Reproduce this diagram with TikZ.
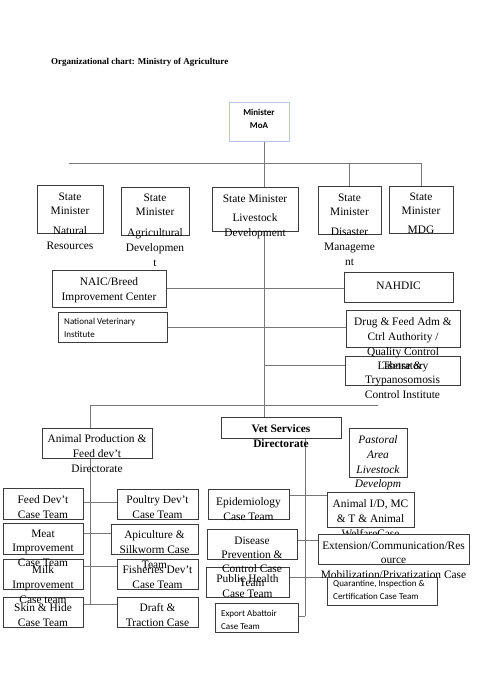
\documentclass[tikz,border=0pt]{standalone}
\usepackage{fontspec}
\setmainfont{Liberation Serif}
\newfontfamily\calfont{Carlito}
\newcommand\tnr{\fontsize{11.4}{14.7}\selectfont}
\newcommand\snr{\calfont\fontsize{9}{13}\selectfont}
\definecolor{boxc}{RGB}{60,60,60}
\definecolor{linec}{RGB}{120,120,120}
\definecolor{minc}{RGB}{180,199,231}
\newcommand\bx[6][]{\node[box,#1,minimum width={#5-#3},minimum height={#6-#4}] (#2) at ({(#3+#5)/2},{(#4+#6)/2}) {};}
\begin{document}
\begin{tikzpicture}[x=1pt,y=-1pt,
  box/.style={draw=boxc, line width=0.8pt, fill=white, inner sep=0pt, outer sep=0pt},
  ln/.style={draw=linec, line width=0.8pt},
  tx/.style={anchor=north, inner sep=0pt, align=center, font=\tnr, execute at begin node=\strut},
  sx/.style={anchor=north west, inner sep=0pt, align=left, font=\snr, execute at begin node=\strut},
  mx/.style={anchor=north, inner sep=0pt, align=center, font=\snr\bfseries, execute at begin node=\strut},
]
\useasboundingbox (0,0) rectangle (486,693);
\fill[white] (0,0) rectangle (486,693);

\node[anchor=base west, inner sep=0pt, font=\fontsize{9}{11}\selectfont\bfseries] (title) at (51,64) {Organizational chart: Ministry of Agriculture};

% coordinates for connectors
\coordinate (spine) at (264,0);
\coordinate (barL) at (69,163);
\coordinate (barR) at (421,163);
\coordinate (tseJ) at (264,365);
\coordinate (h2L) at (90,405);
\coordinate (h2R) at (378,405);
\coordinate (apEnd) at (90,604);
\coordinate (r1) at (0,502);
\coordinate (r2) at (0,533);
\coordinate (r3) at (0,566);
\coordinate (r4) at (0,604);
\coordinate (vs) at (305,0);
\coordinate (vsEnd) at (305,616);
\coordinate (q1) at (0,495);
\coordinate (q2) at (0,540);
\coordinate (q3) at (0,577);

% invisible placement of boxes first (so connectors can use names)
\begin{scope}[box/.append style={draw=none, fill=none}]
\bx{min}{229}{102}{289}{141}
\bx{nr}{37}{185}{103}{233}
\bx{ag}{121}{187}{189}{235}
\bx{ls}{212}{187}{298}{231}
\bx{dm}{318}{186}{381}{234}
\bx{mdg}{389}{186}{453}{233}
\bx{naic}{52}{270}{166}{307}
\bx{nahdic}{344}{272}{453}{302}
\bx{nvi}{58}{312}{167}{342}
\bx{drug}{346}{310}{460}{347}
\bx{tse}{345}{356}{460}{385}
\bx{vet}{221}{417}{341}{438}
\bx{ap}{42}{428}{152}{458}
\bx{past}{349}{428}{407}{477}
\bx{feed}{3}{488}{83}{519}
\bx{poul}{117}{489}{198}{519}
\bx{meat}{3}{523}{83}{554}
\bx{api}{111}{524}{198}{554}
\bx{milk}{3}{559}{83}{589}
\bx{fish}{117}{559}{198}{589}
\bx{skin}{3}{597}{83}{627}
\bx{draft}{117}{597}{198}{627}
\bx{epi}{208}{489}{289}{519}
\bx{dis}{207}{529}{297}{559}
\bx{ph}{206}{567}{289}{597}
\bx{exp}{215}{603}{298}{632}
\bx{aid}{327}{492}{414}{527}
\bx{ext}{318}{534}{469}{564}
\bx{quar}{327}{577}{437}{605}
\end{scope}

% ---------- connectors ----------
\draw[ln] (min.south -| spine) -- (ls.north -| spine);
\draw[ln] (barL) -- (barR);
\draw[ln] (dm.north |- barL) -- (dm.north);
\draw[ln] (mdg.north |- barL) -- (mdg.north);
\draw[ln] (ls.south -| spine) -- (vet.north -| spine);
\draw[ln] (naic.east) -- (naic.east -| nahdic.west);
\draw[ln] (nvi.east) -- (nvi.east -| drug.west);
\draw[ln] (tseJ) -- (tseJ -| tse.west);
\draw[ln] (h2R) -- (h2L) -- (apEnd);
\draw[ln] (feed.east |- r1) -- (poul.west |- r1);
\draw[ln] (meat.east |- r2) -- (api.west |- r2);
\draw[ln] (milk.east |- r3) -- (fish.west |- r3);
\draw[ln] (skin.east |- r4) -- (draft.west |- r4);
\draw[ln] (vet.south -| vs) -- (vsEnd);
\draw[ln] (epi.east |- q1) -- (aid.west |- q1);
\draw[ln] (dis.east |- q2) -- (ext.west |- q2);
\draw[ln] (ph.east |- q3) -- (quar.west |- q3);
\draw[ln] (exp.east |- vsEnd) -- (vsEnd);

% ---------- visible boxes ----------
\bx[draw=minc]{minB}{229}{102}{289}{141}
\bx{nrB}{37}{185}{103}{233}
\bx{agB}{121}{187}{189}{235}
\bx{lsB}{212}{187}{298}{231}
\bx{dmB}{318}{186}{381}{234}
\bx{mdgB}{389}{186}{453}{233}
\bx{naicB}{52}{270}{166}{307}
\bx{nahdicB}{344}{272}{453}{302}
\bx{nviB}{58}{312}{167}{342}
\bx{drugB}{346}{310}{460}{347}
\bx{tseB}{345}{356}{460}{385}
\bx{vetB}{221}{417}{341}{438}
\bx{apB}{42}{428}{152}{458}
\bx{pastB}{349}{428}{407}{477}
\bx{feedB}{3}{488}{83}{519}
\bx{poulB}{117}{489}{198}{519}
\bx{meatB}{3}{523}{83}{554}
\bx{apiB}{111}{524}{198}{554}
\bx{milkB}{3}{559}{83}{589}
\bx{fishB}{117}{559}{198}{589}
\bx{skinB}{3}{597}{83}{627}
\bx{draftB}{117}{597}{198}{627}
\bx{epiB}{208}{489}{289}{519}
\bx{disB}{207}{529}{297}{559}
\bx{phB}{206}{567}{289}{597}
\bx{expB}{215}{603}{298}{632}
\bx{aidB}{327}{492}{414}{527}

% ---------- texts ----------
\node[mx] (minT) at (259,109.4) {Minister\\MoA};
\node[tx] (nrT) at (70,192.5) {State\\Minister\\[5pt]Natural\\Resources};
\node[tx] (agT) at (155,193.5) {State\\Minister\\[6pt]Agricultural\\Developmen\\t};
\node[tx] (lsT) at (255,194.5) {State Minister\\[5pt]Livestock\\Development};
\node[tx] (dmT) at (349.5,193.5) {State\\Minister\\[5pt]Disaster\\Manageme\\nt};
\node[tx] (mdgT) at (421,192.5) {State\\Minister\\[4pt]MDG};
\node[tx] (naicT) at (109,277.5) {NAIC/Breed\\Improvement Center};
\node[tx] (nahdicT) at (398.5,279.5) {NAHDIC};
\node[sx] (nviT) at (64,318) {National Veterinary\\Institute};
\node[tx] (drugT) at (403,317.5) {Drug \& Feed Adm \&\\Ctrl Authority /\\Quality Control\\Laboratory};
\node[tx] (tseT) at (402.5,361.5) {Tsetse \&\\Trypanosomosis\\Control Institute};
\node[tx, font=\tnr\bfseries] (vetT) at (281,424.5) {Vet Services\\Directorate};
\node[tx] (apT) at (97,434.5) {Animal Production \&\\Feed dev’t\\Directorate};
\node[tx, font=\tnr\itshape] (pastT) at (378,435.5) {Pastoral\\Area\\Livestock\\Developm};
\node[tx] (feedT) at (43,495.5) {Feed Dev’t\\Case Team};
\node[tx] (poulT) at (157.5,495.5) {Poultry Dev’t\\Case Team};
\node[tx] (meatT) at (43,529.5) {Meat\\Improvement\\Case Team};
\node[tx] (apiT) at (154.5,530.5) {Apiculture \&\\Silkworm Case\\Team};
\node[tx] (milkT) at (43,565.5) {Milk\\Improvement\\Case team};
\node[tx] (fishT) at (157.5,565.5) {Fisheries Dev’t\\Case Team};
\node[tx] (skinT) at (43,603.5) {Skin \& Hide\\Case Team};
\node[tx] (draftT) at (157.5,603.5) {Draft \&\\Traction Case};
\node[tx] (epiT) at (248.5,497.5) {Epidemiology\\Case Team};
\node[tx, font=\fontsize{11.4}{14}\selectfont] (disT) at (252,536.5) {Disease\\Prevention \&\\Control Case\\Team};
\node[tx] (phT) at (247.5,574.5) {Public Health\\Case Team};
\node[sx] (expT) at (221,610) {Export Abattoir\\Case Team};
\node[tx] (aidT) at (370.5,499.5) {Animal I/D, MC\\\& T \& Animal\\WelfareCase};

% ---------- late boxes covering earlier text ----------
\bx{extB}{318}{534}{469}{564}
\node[tx] (extT) at (393.5,541.5) {Extension/Communication/Res\\ource\\Mobilization/Privatization Case};
\bx{quarB}{327}{577}{437}{605}
\node[sx] (quarT) at (333,580) {Quarantine, Inspection \&\\Certification Case Team};
\end{tikzpicture}
\end{document}
